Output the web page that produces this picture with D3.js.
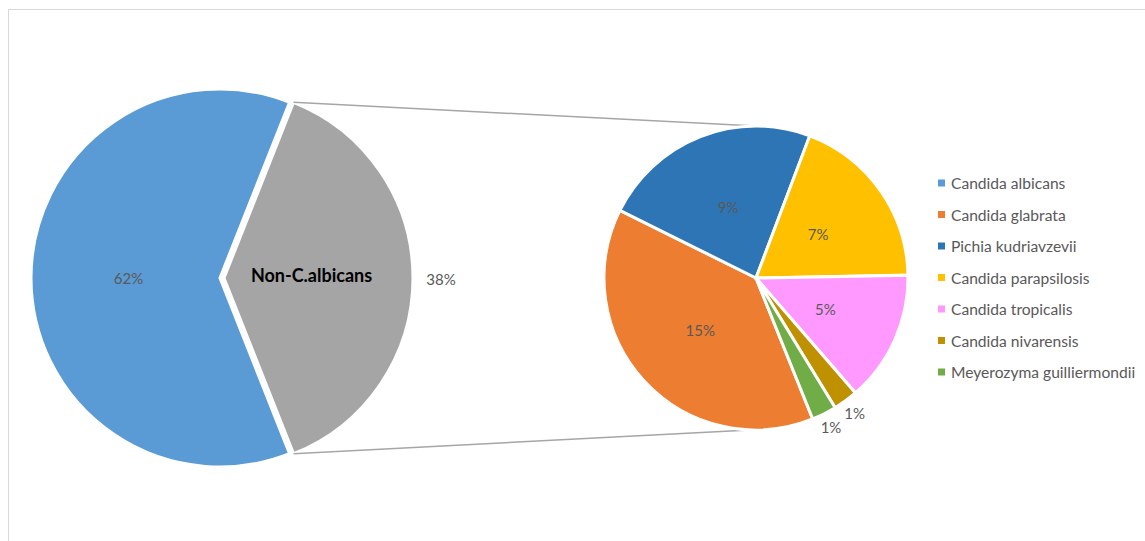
<!DOCTYPE html>
<html>
<head>
<meta charset="utf-8">
<script src="https://cdn.jsdelivr.net/npm/d3@7"></script>
<style>
  html, body { margin: 0; padding: 0; background: #ffffff; }
  svg { display: block; font-family: Lato, "Open Sans", "Liberation Sans", sans-serif; }
</style>
</head>
<body>
<svg id="chart" width="1145" height="541"></svg>
<script>
// Species shares of all isolates (percent)
const species = [
  "Candida albicans",
  "Candida glabrata",
  "Pichia kudriavzevii",
  "Candida parapsilosis",
  "Candida tropicalis",
  "Candida nivarensis",
  "Meyerozyma guilliermondii"
];
const shares = [62.0, 14.6, 8.9, 7.2, 5.3, 1.0, 1.0];
const colors = ["#5b9bd5", "#ed7d31", "#2e75b6", "#ffc000", "#ff99ff", "#bf9000", "#70ad47"];

// Primary pie: C. albicans vs. the grouped remainder
const primaryLabels = ["Candida albicans", "Non-C.albicans"];
const primaryColors = ["#5b9bd5", "#a5a5a5"];

const svg = d3.select("#chart");
const W = 1145, H = 541;
const fmt = d3.format(".0%");
const total = d3.sum(shares);
const deg = Math.PI / 180;

// Chart area frame
svg.append("rect")
  .attr("x", 8.5).attr("y", 9.5)
  .attr("width", W).attr("height", H)
  .attr("fill", "none").attr("stroke", "#d9d9d9").attr("stroke-width", 1);

// ---- primary pie ----
const p = { cx: 220, cy: 278, r: 189, explode: 4 };
const primaryValues = [shares[0], d3.sum(shares.slice(1))];
const otherAngle = primaryValues[1] / total * 2 * Math.PI;
// the grouped slice is centred on the right-hand side (90deg)
const primaryStart = Math.PI / 2 + otherAngle / 2;
const pie1 = d3.pie().sort(null).value(d => d)
  .startAngle(primaryStart).endAngle(primaryStart + 2 * Math.PI);
const arcs1 = pie1(primaryValues);
const arc1 = d3.arc().innerRadius(0).outerRadius(p.r);

const g1 = svg.append("g").attr("transform", `translate(${p.cx},${p.cy})`);
g1.selectAll("path").data(arcs1).join("path")
  .attr("d", arc1)
  .attr("transform", (d, i) => i === 1 ? `translate(${p.explode},0)` : null)
  .attr("fill", (d, i) => primaryColors[i])
  .attr("stroke", "#ffffff").attr("stroke-width", 3).attr("stroke-linejoin", "miter");

// ---- secondary pie ----
const s = { cx: 756, cy: 278, r: 152 };
const subShares = shares.slice(1);
const subTotal = d3.sum(subShares);
// Pichia kudriavzevii starts at -63.6deg; glabrata precedes it
const anchor = -63.6 * deg;
const subStart = anchor - subShares[0] / subTotal * 2 * Math.PI;
const pie2 = d3.pie().sort(null).value(d => d)
  .startAngle(subStart).endAngle(subStart + 2 * Math.PI);
const arcs2 = pie2(subShares);
const arc2 = d3.arc().innerRadius(0).outerRadius(s.r);

// connector lines from the grouped slice to the secondary pie
const a0 = arcs1[1].startAngle, a1 = arcs1[1].endAngle;
const pt = (a, r) => [Math.sin(a) * r, -Math.cos(a) * r];
const top1 = pt(a0, p.r), bot1 = pt(a1, p.r);
const conn = svg.append("g").attr("stroke", "#a6a6a6").attr("stroke-width", 1.5).attr("fill", "none");
conn.append("line")
  .attr("x1", p.cx + p.explode + top1[0]).attr("y1", p.cy + top1[1])
  .attr("x2", s.cx).attr("y2", s.cy - s.r);
conn.append("line")
  .attr("x1", p.cx + p.explode + bot1[0]).attr("y1", p.cy + bot1[1])
  .attr("x2", s.cx - 6).attr("y2", s.cy + s.r);

const g2 = svg.append("g").attr("transform", `translate(${s.cx},${s.cy})`);
g2.selectAll("path").data(arcs2).join("path")
  .attr("d", arc2)
  .attr("fill", (d, i) => colors[i + 1])
  .attr("stroke", "#ffffff").attr("stroke-width", 3).attr("stroke-linejoin", "miter");

// ---- data labels ----
const labelColor = "#595959";
// primary: albicans share inside, category name inside grouped slice, its share outside
g1.append("text")
  .attr("x", arc1.centroid(arcs1[0])[0] + 3).attr("y", arc1.centroid(arcs1[0])[1])
  .attr("text-anchor", "middle").attr("dominant-baseline", "central")
  .attr("font-size", 15).attr("fill", labelColor)
  .text(fmt(primaryValues[0] / total));
const c1 = arc1.centroid(arcs1[1]);
g1.append("text")
  .attr("x", c1[0] - 3).attr("y", c1[1] - 3)
  .attr("text-anchor", "middle").attr("dominant-baseline", "central")
  .attr("font-size", 18).attr("font-weight", "bold").attr("fill", "#000000")
  .text(primaryLabels[1]);
const outer1 = d3.arc().innerRadius(p.r + 28).outerRadius(p.r + 28);
const o1 = outer1.centroid(arcs1[1]);
g1.append("text")
  .attr("x", o1[0] + p.explode).attr("y", o1[1] + 1)
  .attr("text-anchor", "middle").attr("dominant-baseline", "central")
  .attr("font-size", 15).attr("fill", labelColor)
  .text(fmt(primaryValues[1] / total));

// secondary: large slices labelled inside, the thin ones just outside the rim
const outer2 = d3.arc().innerRadius(s.r * 1.1).outerRadius(s.r * 1.1);
g2.selectAll("text").data(arcs2).join("text")
  .attr("x", d => (d.data / total < 0.03 ? outer2 : arc2).centroid(d)[0])
  .attr("y", d => (d.data / total < 0.03 ? outer2 : arc2).centroid(d)[1])
  .attr("text-anchor", "middle").attr("dominant-baseline", "central")
  .attr("font-size", 15).attr("fill", labelColor)
  .text(d => fmt(d.data / total));

// ---- legend ----
const leg = svg.append("g").attr("transform", "translate(938,183)");
const item = leg.selectAll("g").data(species).join("g")
  .attr("transform", (d, i) => `translate(0,${i * 31.5})`);
item.append("rect")
  .attr("x", 0).attr("y", -3.5).attr("width", 7).attr("height", 7)
  .attr("fill", (d, i) => colors[i]);
item.append("text")
  .attr("x", 13).attr("y", 0)
  .attr("dominant-baseline", "central")
  .attr("font-size", 15.6).attr("fill", labelColor)
  .text(d => d);
</script>
</body>
</html>
